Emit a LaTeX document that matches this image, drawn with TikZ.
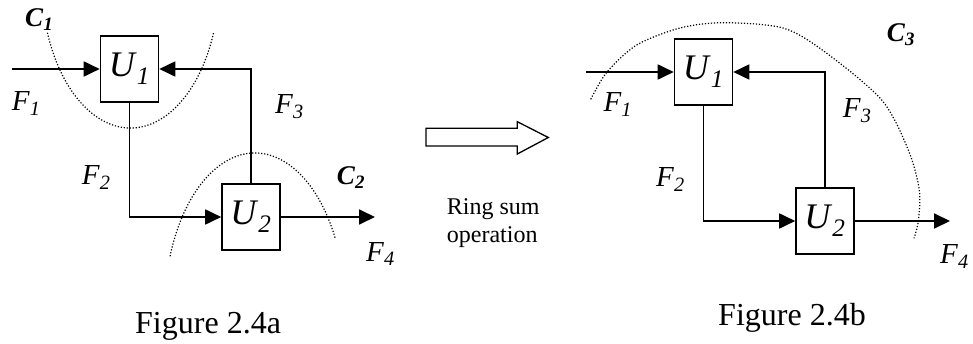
\documentclass[tikz,border=0pt]{standalone}
\usepackage{fontspec}
\setmainfont{Liberation Serif}
\usetikzlibrary{arrows.meta}
\newcommand{\etq}[2]{\textit{#1}\textsubscript{\textit{#2}}}
\newcommand{\etqb}[2]{\textbf{\textit{#1}\textsubscript{\textit{#2}}}}
\tikzset{
  caja/.style={draw, line width=1.6pt, minimum width=58pt, minimum height=66pt, inner sep=0pt, font=\fontsize{36}{40}\selectfont},
  fl/.style={-{Triangle[length=16pt,width=15pt]}, line width=1.8pt},
  corte/.style={line width=1.2pt, dash pattern=on 1.2pt off 1.8pt},
  et/.style={anchor=base west, inner sep=0pt, font=\fontsize{29}{32}\selectfont},
  ct/.style={anchor=base west, inner sep=0pt, font=\fontsize{27}{30}\selectfont},
  pie/.style={anchor=base west, inner sep=0pt, font=\fontsize{32}{36}\selectfont},
  hueca/.style={draw, line width=1.3pt, fill=white},
}

\begin{document}
\begin{tikzpicture}[x=1pt, y=1pt]
  \useasboundingbox (0,0) rectangle (973,343);
  % figure 2.4a
  \node[caja] (u1a) at (129.5,274) {\etq{U}{1}};
  \node[caja] (u2a) at (251,126) {\etq{U}{2}};
  \coordinate (in1) at (12,274);
  \coordinate (out1) at (375,126);
  \draw[fl] (in1) -- (u1a.west);
  \draw[fl] (u2a.north) |- (u1a.east);
  \draw[fl] (u1a.south) |- (u2a.west);
  \draw[fl] (u2a.east) -- (out1);
  \draw[corte] (130.5,363.5) ++(201:89 and 148.5) arc[start angle=201, end angle=339, x radius=89, y radius=148.5];
  \draw[corte] (254.9,33) ++(160:90.3 and 157) arc[start angle=160, end angle=27, x radius=90.3, y radius=157];
  \node[ct] (c1) at (25,316.3) {\etqb{C}{1}};
  \node[ct] (c2) at (336.7,158.7) {\etqb{C}{2}};
  \node[et] (f1a) at (11.7,232) {\etq{F}{1}};
  \node[et] (f2a) at (81.7,158.7) {\etq{F}{2}};
  \node[et] (f3a) at (275,229.7) {\etq{F}{3}};
  \node[et] (f4a) at (366,82) {\etq{F}{4}};
  \node[pie] (pa) at (135,10) {Figure 2.4a};
  % ring sum
  \draw[hueca] (426,214.7) -- (517.3,214.7) -- (517.3,221.3) -- (548.3,205.5)
    -- (517.3,189) -- (517.3,197) -- (426,197) -- cycle;
  \node[anchor=north west, inner sep=0pt, align=left, font=\fontsize{24}{28}\selectfont] (op) at (446.7,144.4) {Ring sum\\operation};
  % figure 2.4b
  \node[caja] (u1b) at (703.5,271) {\etq{U}{1}};
  \node[caja] (u2b) at (825,122) {\etq{U}{2}};
  \coordinate (in2) at (586,271);
  \coordinate (out2) at (950,122);
  \draw[fl] (in2) -- (u1b.west);
  \draw[fl] (u2b.north) |- (u1b.east);
  \draw[fl] (u1b.south) |- (u2b.west);
  \draw[fl] (u2b.east) -- (out2);
  \draw[corte] plot[smooth] coordinates {(590.7,243.7) (607,271) (636.7,298) (680,315) (723,320.3)
    (783,315) (825,291) (881.7,243) (908.3,193) (919.3,153) (918.3,122) (914,104.7)};
  \node[ct] (c3) at (886.7,301.3) {\etqb{C}{3}};
  \node[et] (f1b) at (603.3,231.3) {\etq{F}{1}};
  \node[et] (f2b) at (656,156.3) {\etq{F}{2}};
  \node[et] (f3b) at (842.7,225.7) {\etq{F}{3}};
  \node[et] (f4b) at (940,79.7) {\etq{F}{4}};
  \node[pie] (pb) at (718,18) {Figure 2.4b};
\end{tikzpicture}
\end{document}
